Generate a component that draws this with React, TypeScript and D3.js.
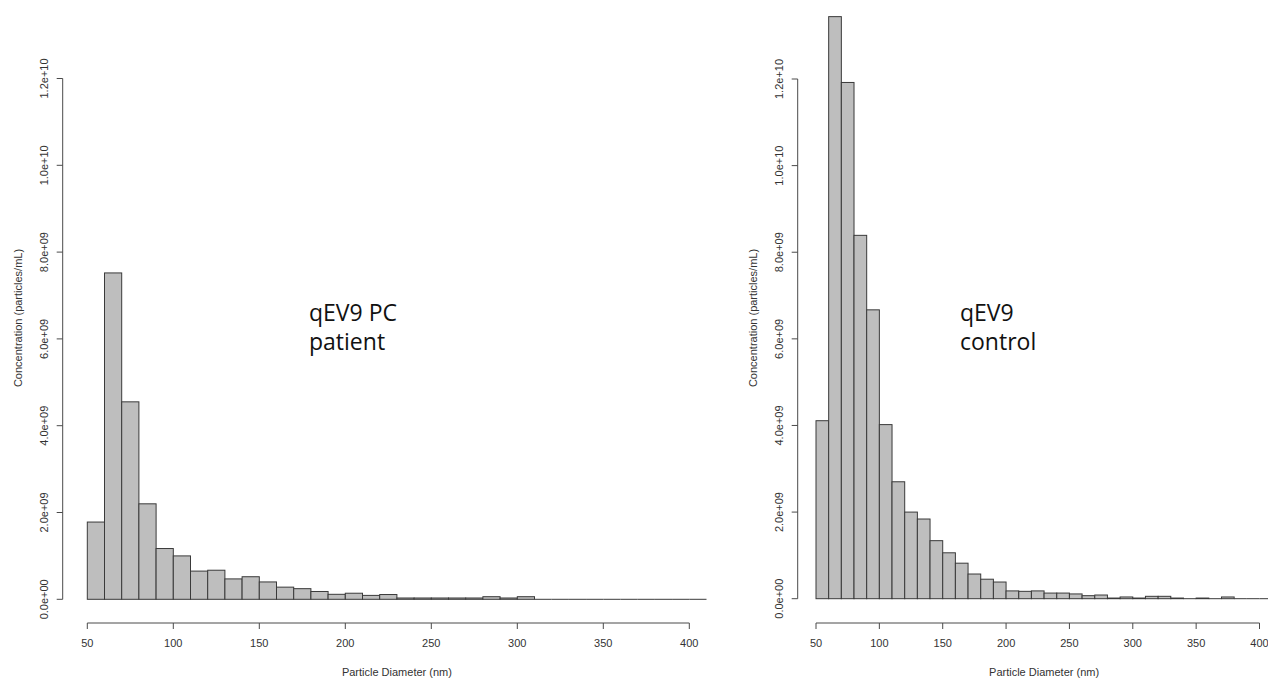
import React from "react";
import * as d3 from "d3";

// Bin left edges (nm), 10 nm wide bins
const binStarts = [
  50, 60, 70, 80, 90, 100, 110, 120, 130, 140, 150, 160, 170, 180, 190, 200, 210, 220,
  230, 240, 250, 260, 270, 280, 290, 300, 310, 320, 330, 340, 350, 360, 370, 380, 390, 400,
];
const binWidth = 10;

// Concentration per bin (particles/mL)
const patientValues = [
  1.78e9, 7.52e9, 4.55e9, 2.2e9, 1.17e9, 1.0e9, 0.65e9, 0.67e9, 0.47e9, 0.52e9, 0.4e9, 0.28e9,
  0.245e9, 0.18e9, 0.115e9, 0.14e9, 0.09e9, 0.11e9, 0.03e9, 0.03e9, 0.03e9, 0.03e9, 0.03e9,
  0.06e9, 0.03e9, 0.06e9, 0.01e9, 0, 0.01e9, 0, 0, 0.01e9, 0, 0, 0, 0,
];
const controlValues = [
  4.11e9, 13.44e9, 11.92e9, 8.39e9, 6.67e9, 4.02e9, 2.7e9, 2.0e9, 1.84e9, 1.34e9, 1.06e9, 0.82e9,
  0.57e9, 0.45e9, 0.385e9, 0.18e9, 0.17e9, 0.18e9, 0.13e9, 0.13e9, 0.11e9, 0.07e9, 0.085e9,
  0.015e9, 0.04e9, 0.015e9, 0.055e9, 0.055e9, 0.015e9, 0, 0.015e9, 0, 0.04e9, 0, 0, 0,
];

const xTicks = [50, 100, 150, 200, 250, 300, 350, 400];
const yTicks = [0, 2e9, 4e9, 6e9, 8e9, 10e9, 12e9];
const yTickLabels = ["0.0e+00", "2.0e+09", "4.0e+09", "6.0e+09", "8.0e+09", "1.0e+10", "1.2e+10"];

const xTitle = "Particle Diameter (nm)";
const yTitle = "Concentration (particles/mL)";

type PanelProps = {
  values: number[];
  label: string[];
  xRange: [number, number];
  y0: number;
  yTop: number;
  axisX: number;
  axisY: number;
  labelX: number;
};

const FONT = "Liberation Sans, Arial, sans-serif";
const BAR_FILL = "#bebebe";
const BAR_STROKE = "#3a3a3a";
const AXIS = "#4a4a4a";
const TEXT = "#333";

function Panel({ values, label, xRange, y0, yTop, axisX, axisY, labelX }: PanelProps) {
  const x = d3.scaleLinear().domain([50, 400]).range(xRange);
  const y = d3.scaleLinear().domain([0, 12e9]).range([y0, yTop]);
  const xMid = (x(50) + x(binStarts[binStarts.length - 1] + binWidth)) / 2;
  const titleY = 318;

  return (
    <g>
      {/* histogram bars; empty bins collapse to a line on the baseline */}
      {binStarts.map((b, i) => {
        const left = x(b);
        const right = x(b + binWidth);
        const top = y(values[i]);
        const h = y(0) - top;
        if (h < 0.5) {
          return (
            <line
              key={b}
              x1={left}
              x2={right}
              y1={y(0)}
              y2={y(0)}
              stroke={BAR_STROKE}
              strokeWidth={1}
            />
          );
        }
        return (
          <rect
            key={b}
            x={left}
            y={top}
            width={right - left}
            height={h}
            fill={BAR_FILL}
            stroke={BAR_STROKE}
            strokeWidth={1}
          />
        );
      })}

      {/* x axis */}
      <line x1={x(50)} x2={x(400)} y1={axisY} y2={axisY} stroke={AXIS} strokeWidth={1} />
      {xTicks.map((t) => (
        <g key={t}>
          <line x1={x(t)} x2={x(t)} y1={axisY} y2={axisY + 6} stroke={AXIS} strokeWidth={1} />
          <text x={x(t)} y={axisY + 24} textAnchor="middle" fontSize={11} fontFamily={FONT} fill={TEXT}>
            {t}
          </text>
        </g>
      ))}
      <text x={xMid} y={676} textAnchor="middle" fontSize={11} fontFamily={FONT} fill={TEXT}>
        {xTitle}
      </text>

      {/* y axis */}
      <line x1={axisX} x2={axisX} y1={y(0)} y2={y(12e9)} stroke={AXIS} strokeWidth={1} />
      {yTicks.map((t, i) => (
        <g key={t}>
          <line x1={axisX - 6} x2={axisX} y1={y(t)} y2={y(t)} stroke={AXIS} strokeWidth={1} />
          <text
            transform={`translate(${axisX - 15},${y(t)}) rotate(-90)`}
            textAnchor="middle"
            fontSize={11}
            fontFamily={FONT}
            fill={TEXT}
          >
            {yTickLabels[i]}
          </text>
        </g>
      ))}
      <text
        transform={`translate(${axisX - 41},${titleY}) rotate(-90)`}
        textAnchor="middle"
        fontSize={11}
        fontFamily={FONT}
        fill={TEXT}
      >
        {yTitle}
      </text>

      {/* sample annotation */}
      <text x={labelX} y={321} fontSize={23} fontFamily="Open Sans, sans-serif" fill="#111">
        {label[0]}
      </text>
      <text x={labelX} y={350} fontSize={23} fontFamily="Open Sans, sans-serif" fill="#111">
        {label[1]}
      </text>
    </g>
  );
}

export default function App() {
  return (
    <svg
      width={1268}
      height={680}
      style={{ position: "absolute", left: 0, top: 0, background: "#fff" }}
    >
      <rect width={1268} height={680} fill="#fff" />
      <Panel
        values={patientValues}
        label={["qEV9 PC", "patient"]}
        xRange={[87.3, 689.3]}
        y0={599.3}
        yTop={78.5}
        axisX={62.7}
        axisY={623}
        labelX={309}
      />
      <Panel
        values={controlValues}
        label={["qEV9", "control"]}
        xRange={[816, 1259.5]}
        y0={598.7}
        yTop={79}
        axisX={797.7}
        axisY={623}
        labelX={960}
      />
    </svg>
  );
}
